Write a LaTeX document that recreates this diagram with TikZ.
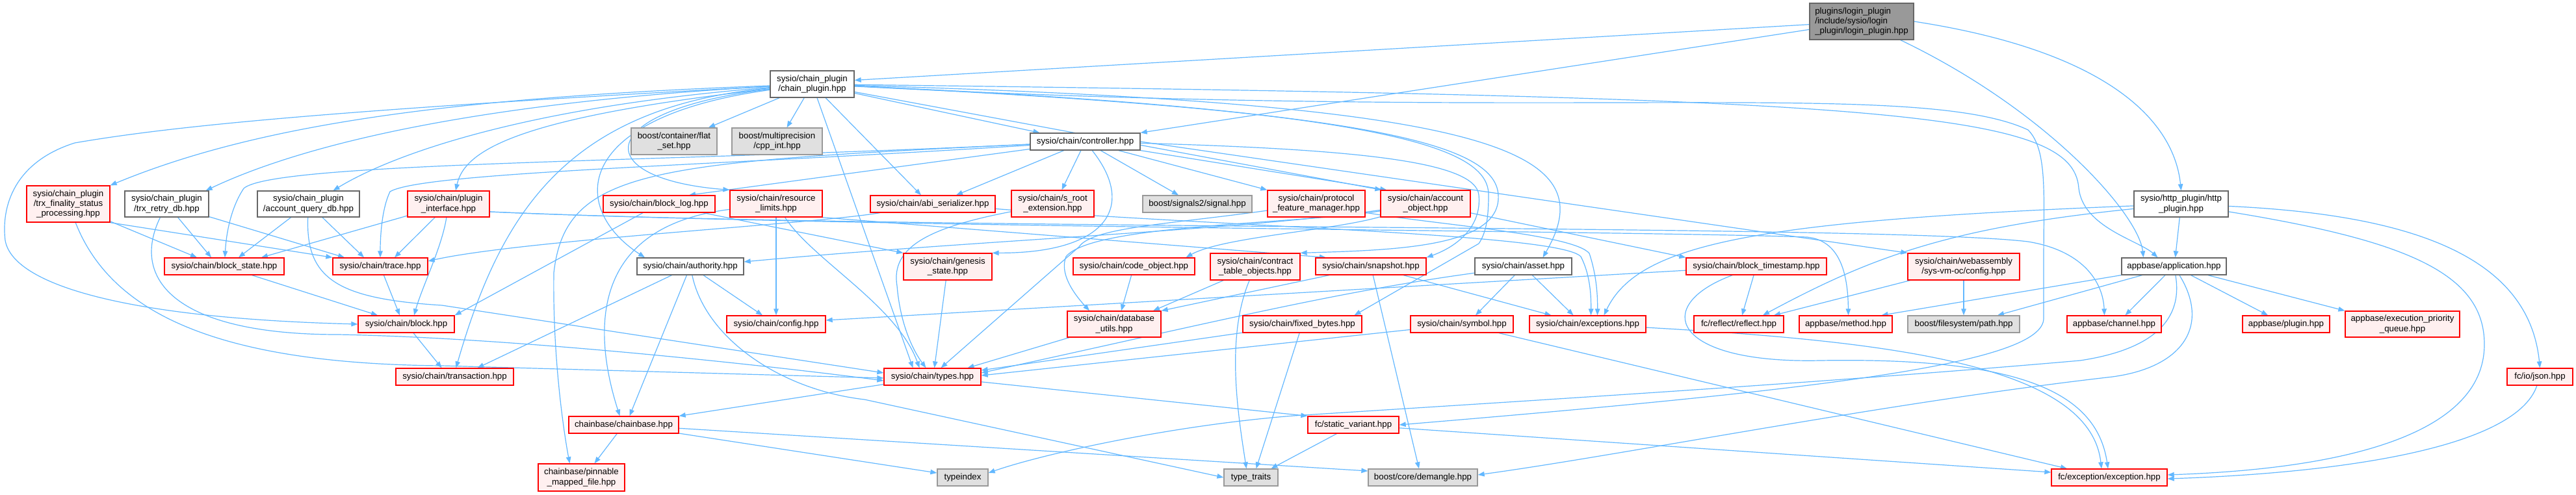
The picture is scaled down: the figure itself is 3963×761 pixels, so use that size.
\documentclass[tikz,border=0pt]{standalone}
\usepackage{fontspec}
\setmainfont{Liberation Sans}
\usetikzlibrary{arrows.meta}
\pgfdeclarelayer{background}
\pgfsetlayers{background,main}
\definecolor{edgec}{HTML}{63B8FF}
\definecolor{redfill}{HTML}{FFF0F0}
\definecolor{extfill}{HTML}{E0E0E0}
\definecolor{extdraw}{HTML}{999999}
\definecolor{wdraw}{HTML}{666666}
\definecolor{rootfill}{HTML}{999999}
\definecolor{redline}{HTML}{FF0000}
\tikzset{
  base/.style={rectangle, inner sep=0pt, align=center, line width=1.3pt,
    font=\fontsize{13.3}{15.2}\selectfont},
  rn/.style={base, draw=redline, fill=redfill},
  wn/.style={base, draw=wdraw, fill=white},
  gn/.style={base, draw=extdraw, fill=extfill},
  rootn/.style={base, draw=wdraw, fill=rootfill, align=left},
  dep/.style={draw=edgec, line width=1.2pt, -{Triangle[length=10pt,width=7.5pt]}},
}
\begin{document}
\begin{tikzpicture}[x=1pt,y=-1pt]
\begin{pgfonlayer}{background}
\fill[white] (0,0) rectangle (3963,761);
\end{pgfonlayer}
\path[use as bounding box] (0,0) rectangle (3963,761);

% rank 0-1
\node[rootn, minimum width=160pt, minimum height=56pt] (root) at (2864,33) {plugins/login\_plugin\\/include/sysio/login\\\_plugin/login\_plugin.hpp};
\node[wn, minimum width=129pt, minimum height=41pt] (chainplugin) at (1249.5,129.5) {sysio/chain\_plugin\\/chain\_plugin.hpp};
\node[gn, minimum width=132pt, minimum height=41pt] (flatset) at (1037,217.5) {boost/container/flat\\\_set.hpp};
\node[gn, minimum width=139pt, minimum height=41pt] (cppint) at (1195.5,217.5) {boost/multiprecision\\/cpp\_int.hpp};
\node[wn, minimum width=169pt, minimum height=26pt] (controller) at (1669.5,218) {sysio/chain/controller.hpp};

% rank 2
\node[rn, minimum width=128pt, minimum height=56pt] (trxfin) at (105,314) {sysio/chain\_plugin\\/trx\_finality\_status\\\_processing.hpp};
\node[wn, minimum width=129pt, minimum height=40pt] (trxretry) at (256.5,314) {sysio/chain\_plugin\\/trx\_retry\_db.hpp};
\node[wn, minimum width=157pt, minimum height=40pt] (acctq) at (474.5,314) {sysio/chain\_plugin\\/account\_query\_db.hpp};
\node[rn, minimum width=126pt, minimum height=40pt] (plugif) at (690,314) {sysio/chain/plugin\\\_interface.hpp};
\node[rn, minimum width=172pt, minimum height=26pt] (blocklog) at (1014,314) {sysio/chain/block\_log.hpp};
\node[rn, minimum width=142pt, minimum height=41pt] (reslim) at (1194,313.5) {sysio/chain/resource\\\_limits.hpp};
\node[rn, minimum width=192pt, minimum height=26pt] (abiser) at (1435,314) {sysio/chain/abi\_serializer.hpp};
\node[rn, minimum width=127pt, minimum height=41pt] (sroot) at (1619.5,313.5) {sysio/chain/s\_root\\\_extension.hpp};
\node[gn, minimum width=168pt, minimum height=26pt] (signals) at (1842,314) {boost/signals2/signal.hpp};
\node[rn, minimum width=150pt, minimum height=41pt] (protofeat) at (2025,313.5) {sysio/chain/protocol\\\_feature\_manager.hpp};
\node[rn, minimum width=138pt, minimum height=41pt] (acctobj) at (2193,313.5) {sysio/chain/account\\\_object.hpp};
\node[wn, minimum width=145pt, minimum height=40pt] (http) at (3355.5,314) {sysio/http\_plugin/http\\\_plugin.hpp};

% rank 3
\node[rn, minimum width=184pt, minimum height=26pt] (blockstate) at (345,410) {sysio/chain/block\_state.hpp};
\node[rn, minimum width=146pt, minimum height=26pt] (trace) at (585,410) {sysio/chain/trace.hpp};
\node[wn, minimum width=164pt, minimum height=26pt] (authority) at (1062,410) {sysio/chain/authority.hpp};
\node[rn, minimum width=136pt, minimum height=41pt] (genesis) at (1458,410.5) {sysio/chain/genesis\\\_state.hpp};
\node[rn, minimum width=187pt, minimum height=26pt] (codeobj) at (1744.5,410) {sysio/chain/code\_object.hpp};
\node[rn, minimum width=138pt, minimum height=41pt] (contracttbl) at (1931,410.5) {sysio/chain/contract\\\_table\_objects.hpp};
\node[rn, minimum width=170pt, minimum height=26pt] (snapshot) at (2109,410) {sysio/chain/snapshot.hpp};
\node[wn, minimum width=149pt, minimum height=26pt] (asset) at (2343.5,410) {sysio/chain/asset.hpp};
\node[rn, minimum width=216pt, minimum height=26pt] (blockts) at (2702,410) {sysio/chain/block\_timestamp.hpp};
\node[rn, minimum width=172pt, minimum height=41pt] (wasmcfg) at (3021,410.5) {sysio/chain/webassembly\\/sys-vm-oc/config.hpp};
\node[wn, minimum width=161pt, minimum height=26pt] (application) at (3344.5,410) {appbase/application.hpp};

% rank 4
\node[rn, minimum width=148pt, minimum height=26pt] (block) at (625,499) {sysio/chain/block.hpp};
\node[rn, minimum width=152pt, minimum height=26pt] (config) at (1194,499) {sysio/chain/config.hpp};
\node[rn, minimum width=144pt, minimum height=40pt] (dbutils) at (1714,499) {sysio/chain/database\\\_utils.hpp};
\node[rn, minimum width=183pt, minimum height=26pt] (fixedbytes) at (2003.5,499) {sysio/chain/fixed\_bytes.hpp};
\node[rn, minimum width=158pt, minimum height=26pt] (symbol) at (2249,499) {sysio/chain/symbol.hpp};
\node[rn, minimum width=179pt, minimum height=26pt] (exceptions) at (2442.5,499) {sysio/chain/exceptions.hpp};
\node[rn, minimum width=138pt, minimum height=26pt] (reflect) at (2675,499) {fc/reflect/reflect.hpp};
\node[rn, minimum width=143pt, minimum height=26pt] (method) at (2839.5,499) {appbase/method.hpp};
\node[gn, minimum width=172pt, minimum height=26pt] (fspath) at (3021,499) {boost/filesystem/path.hpp};
\node[rn, minimum width=145pt, minimum height=26pt] (channel) at (3252.5,499) {appbase/channel.hpp};
\node[rn, minimum width=134pt, minimum height=26pt] (pluginhpp) at (3517,499) {appbase/plugin.hpp};
\node[rn, minimum width=176pt, minimum height=40pt] (execq) at (3696,499) {appbase/execution\_priority\\\_queue.hpp};

% rank 5
\node[rn, minimum width=181pt, minimum height=26pt] (transaction) at (699.5,580) {sysio/chain/transaction.hpp};
\node[rn, minimum width=149pt, minimum height=26pt] (types) at (1434.5,580) {sysio/chain/types.hpp};
\node[rn, minimum width=101pt, minimum height=26pt] (json) at (3907.5,580) {fc/io/json.hpp};

% rank 6
\node[rn, minimum width=169pt, minimum height=26pt] (chainbase) at (959.5,654) {chainbase/chainbase.hpp};
\node[rn, minimum width=140pt, minimum height=26pt] (staticvar) at (2082,654) {fc/static\_variant.hpp};

% rank 7
\node[rn, minimum width=133pt, minimum height=42pt] (pinnable) at (894.5,735) {chainbase/pinnable\\\_mapped\_file.hpp};
\node[gn, minimum width=78pt, minimum height=26pt] (typeindex) at (1481,735) {typeindex};
\node[gn, minimum width=83pt, minimum height=26pt] (typetraits) at (1924.5,735) {type\_traits};
\node[gn, minimum width=168pt, minimum height=26pt] (demangle) at (2189,735) {boost/core/demangle.hpp};
\node[rn, minimum width=178pt, minimum height=26pt] (exception) at (3245,735) {fc/exception/exception.hpp};

% ---------- edges (behind the boxes) ----------
\begin{pgfonlayer}{background}
% root
\draw[dep] (root) -- ([yshift=6pt]chainplugin.east);
\draw[dep] (root) -- (controller.north east);
\draw[dep] (root.east) .. controls (3250,80) and (3345,190) .. (http.north);
\draw[dep] (root) .. controls (3150,170) and (3290,330) .. ([xshift=-47pt]application.north);

% chain_plugin
\draw[dep] (chainplugin) .. controls (700,150) and (400,190) .. (trxfin.north east);
\draw[dep] (chainplugin) .. controls (700,160) and (450,230) .. ([xshift=-5pt]trxretry.north east);
\draw[dep] (chainplugin) .. controls (800,165) and (600,240) .. ([xshift=38pt]acctq.north);
\draw[dep] (chainplugin) .. controls (800,180) and (715,230) .. ([xshift=11pt]plugif.north);
\draw[dep] (chainplugin) .. controls (500,170) and (260,195) .. (115,220) .. controls (20,250) and (2,320) .. (8,370) .. controls (20,440) and (200,490) .. (block.west);
\draw[dep] (chainplugin) -- ([xshift=53pt]flatset.north);
\draw[dep] (chainplugin) -- ([xshift=15pt]cppint.north);
\draw[dep] (chainplugin) -- ([xshift=-70pt]controller.north);
\draw[dep] (chainplugin) -- ([xshift=-18pt]abiser.north);
\draw[dep] (chainplugin) .. controls (910,170) and (905,275) .. (reslim.north west);
\draw[dep] (chainplugin) .. controls (880,180) and (875,320) .. ([xshift=-70pt]authority.north);
\draw[dep] (chainplugin) -- ([xshift=-30pt]types.north);
\draw[dep] (chainplugin) .. controls (870,165) and (770,330) .. ([xshift=2pt]transaction.north);
\draw[dep] (chainplugin) -- ([xshift=2pt]acctobj.north west);
\draw[dep] (chainplugin) .. controls (2100,170) and (2300,220) .. (2305,300) .. controls (2310,380) and (2150,385) .. (contracttbl.north east);
\draw[dep] (chainplugin) .. controls (2300,160) and (2470,230) .. ([xshift=30pt]asset.north);
\draw[dep] (chainplugin) .. controls (2150,170) and (2290,230) .. (2290,300) .. controls (2290,340) and (2285,360) .. (2275,375) -- ([xshift=80pt]fixedbytes.north);
\draw[dep] (chainplugin) .. controls (2400,190) and (2950,120) .. (3120,200) .. controls (3150,230) and (3144,300) .. (3144,400) -- (3144,490) .. controls (3144,560) and (2800,600) .. (staticvar.east);
\draw[dep] (chainplugin) .. controls (2900,150) and (3190,170) .. (3198,290) .. controls (3205,350) and (3290,370) .. ([xshift=-25pt]application.north);

% controller
\draw[dep] (controller) -- ([xshift=36pt]abiser.north);
\draw[dep] (controller) -- ([xshift=14pt]sroot.north);
\draw[dep] (controller) -- ([xshift=-29pt]signals.north);
\draw[dep] (controller) -- (protofeat.north west);
\draw[dep] (controller) .. controls (1750,320) and (1700,390) .. (genesis.north east);
\draw[dep] (controller) -- ([xshift=46pt]blocklog.north);
\draw[dep] (controller) .. controls (1000,250) and (420,250) .. (375,290) .. controls (355,320) and (348,360) .. ([xshift=1pt]blockstate.north);
\draw[dep] (controller) .. controls (1100,255) and (650,265) .. (600,295) .. controls (588,320) and (585,360) .. (trace.north);
\draw[dep] (controller) .. controls (1000,250) and (870,260) .. (852,420) .. controls (850,560) and (870,680) .. ([xshift=-18pt]pinnable.north);
\draw[dep] (controller) .. controls (2100,230) and (2270,250) .. (2275,300) .. controls (2280,350) and (2240,380) .. (snapshot.north east);
\draw[dep] (controller.east) -- (wasmcfg.north west);
\draw[dep] (controller) -- ([xshift=10pt]acctobj.north west);

% protocol feature / account object
\draw[dep] (protofeat) .. controls (1800,345) and (1680,350) .. (1660,380) -- ([xshift=13pt]types.north);
\draw[dep] (protofeat) .. controls (2200,345) and (2420,360) .. (2445,390) .. controls (2455,420) and (2458,450) .. ([xshift=15pt]exceptions.north);
\draw[dep] (acctobj) .. controls (2000,345) and (1680,345) .. (1640,395) .. controls (1630,420) and (1650,450) .. ([xshift=-38pt]dbutils.north);
\draw[dep] (acctobj) .. controls (1900,355) and (1500,370) .. ([yshift=7pt]authority.east);
\draw[dep] (acctobj) .. controls (2050,355) and (1880,365) .. ([xshift=80pt]codeobj.north);
\draw[dep] (acctobj) -- (blockts.north west);

% plugin interface
\draw[dep] (plugif) -- ([xshift=57pt]blockstate.north);
\draw[dep] (plugif) -- ([xshift=22pt]trace.north);
\draw[dep] (plugif) .. controls (680,380) and (650,440) .. ([xshift=12pt]block.north);
\draw[dep] ([yshift=-12pt]plugif.east) .. controls (1300,350) and (2500,355) .. (2780,365) .. controls (2830,370) and (2843,420) .. ([xshift=4pt]method.north);
\draw[dep] ([yshift=-12pt]plugif.east) .. controls (1400,355) and (2900,345) .. (3120,372) .. controls (3200,385) and (3235,430) .. ([xshift=-15pt]channel.north);

% chain_plugin sub-headers
\draw[dep] (trxfin) -- ([xshift=-42pt]blockstate.north);
\draw[dep] (trxfin.south east) -- (trace.north west);
\draw[dep] (trxfin) .. controls (170,480) and (330,560) .. (680,563) -- ([yshift=-2pt]types.west);
\draw[dep] (trxretry) -- ([xshift=-20pt]blockstate.north);
\draw[dep] (trxretry) -- ([xshift=-55pt]trace.north);
\draw[dep] (trxretry) .. controls (200,430) and (270,515) .. (520,515) .. controls (800,520) and (1200,565) .. ([yshift=-6pt]types.west);
\draw[dep] (acctq) -- ([xshift=22pt]blockstate.north);
\draw[dep] (acctq) -- ([xshift=-25pt]trace.north);
\draw[dep] (acctq) .. controls (470,430) and (520,460) .. (680,470) -- ([yshift=6pt]types.west);

% block family
\draw[dep] (blockstate) -- ([xshift=-44pt]block.north);
\draw[dep] (trace) -- ([xshift=-10pt]block.north);
\draw[dep] (block) -- ([xshift=-20pt]transaction.north);
\draw[dep] (blocklog) -- (block.north east);
\draw[dep] (blocklog) -- (genesis.north west);

% authority
\draw[dep] (authority) -- ([xshift=35pt]transaction.north);
\draw[dep] (authority) -- ([xshift=9pt]chainbase.north);
\draw[dep] (authority) -- ([xshift=-21pt]config.north);
\draw[dep] (authority) .. controls (1085,520) and (1200,600) .. (1330,615) -- (typetraits.west);

% resource limits
\draw[dep] (reslim) -- (config.north);
\draw[dep] (reslim) .. controls (900,350) and (915,520) .. ([xshift=-6pt]chainbase.north);
\draw[dep] (reslim) .. controls (1250,400) and (1380,470) .. ([xshift=-20pt]types.north);
\draw[dep] (reslim.south east) -- ([xshift=-69pt]snapshot.north);

% abi serializer, s_root, genesis
\draw[dep] (abiser) .. controls (1250,345) and (800,370) .. ([yshift=8pt]trace.east);
\draw[dep] (abiser) .. controls (1900,350) and (2400,360) .. (2432,395) .. controls (2445,420) and (2448,450) .. ([xshift=5pt]exceptions.north);
\draw[dep] (sroot) .. controls (1430,350) and (1370,380) .. (1380,440) .. controls (1385,500) and (1405,540) .. ([xshift=-10pt]types.north);
\draw[dep] (genesis) -- ([xshift=3pt]types.north);

% code object, contract tables, database utils
\draw[dep] (codeobj) -- ([xshift=11pt]dbutils.north);
\draw[dep] (contracttbl) -- ([xshift=60pt]dbutils.north);
\draw[dep] (contracttbl) .. controls (1885,520) and (1905,640) .. ([xshift=-7pt]typetraits.north);
\draw[dep] (dbutils) -- ([xshift=54pt]types.north);

% snapshot
\draw[dep] (snapshot) -- (dbutils.north east);
\draw[dep] (snapshot) -- ([xshift=-56pt]exceptions.north);
\draw[dep] (snapshot) -- ([xshift=-6pt]demangle.north);

% asset, symbol, exceptions, fixed bytes
\draw[dep] (asset) -- ([xshift=21pt]symbol.north);
\draw[dep] (asset) -- ([xshift=-22pt]exceptions.north);
\draw[dep] (asset) .. controls (2050,450) and (1850,500) .. ([yshift=6pt]types.east);
\draw[dep] (symbol) -- ([yshift=2pt]types.east);
\draw[dep] (symbol) -- ([xshift=-65pt]exception.north);
\draw[dep] (exceptions) .. controls (2900,525) and (3215,560) .. ([xshift=-12pt]exception.north);
\draw[dep] (fixedbytes) -- ([yshift=10pt]types.east);
\draw[dep] (fixedbytes) -- ([xshift=8pt]typetraits.north);

% static variant, types, chainbase
\draw[dep] (staticvar) -- ([xshift=31pt]typetraits.north);
\draw[dep] (staticvar) -- ([yshift=8pt]exception.west);
\draw[dep] (types) -- (chainbase.north east);
\draw[dep] (types) -- (staticvar.north west);
\draw[dep] (chainbase) -- ([xshift=20pt]pinnable.north);
\draw[dep] (chainbase) -- ([yshift=7pt]typeindex.west);
\draw[dep] (chainbase) -- ([yshift=10pt]demangle.west);

% block timestamp, webassembly config
\draw[dep] (blockts) -- ([xshift=5pt]reflect.north);
\draw[dep] (blockts) -- ([yshift=6pt]config.east);
\draw[dep] (blockts) .. controls (2540,470) and (2570,560) .. (2800,555) .. controls (3100,550) and (3225,600) .. ([xshift=-2pt]exception.north);
\draw[dep] (wasmcfg) -- ([xshift=54pt]reflect.north);
\draw[dep] (wasmcfg) -- (fspath.north);

% http plugin
\draw[dep] (http) -- ([xshift=2pt]application.north);
\draw[dep] (http) .. controls (2700,340) and (2520,375) .. ([xshift=25pt]exceptions.north);
\draw[dep] (http) .. controls (3000,350) and (2880,395) .. ([xshift=37pt]reflect.north);
\draw[dep] (http) .. controls (3700,330) and (3890,390) .. (json.north);
\draw[dep] (http) .. controls (3700,370) and (3822,420) .. (3822,530) .. controls (3822,700) and (3500,725) .. ([yshift=4pt]exception.east);
\draw[dep] (json) .. controls (3870,690) and (3600,728) .. ([yshift=-2pt]exception.east);

% application
\draw[dep] (application) -- ([xshift=55pt]method.north);
\draw[dep] (application) -- ([xshift=17pt]channel.north);
\draw[dep] (application) -- ([xshift=52pt]fspath.north);
\draw[dep] (application) -- ([xshift=-28pt]pluginhpp.north);
\draw[dep] (application) -- (execq.north west);
\draw[dep] (application) .. controls (3360,500) and (3300,540) .. (3200,555) .. controls (2800,590) and (2300,620) .. (1990,640) .. controls (1800,655) and (1600,700) .. ([yshift=7pt]typeindex.east);
\draw[dep] (application) .. controls (3400,500) and (3360,565) .. (3250,580) .. controls (2900,620) and (2500,700) .. ([yshift=4pt]demangle.east);
\end{pgfonlayer}
\end{tikzpicture}
\end{document}
